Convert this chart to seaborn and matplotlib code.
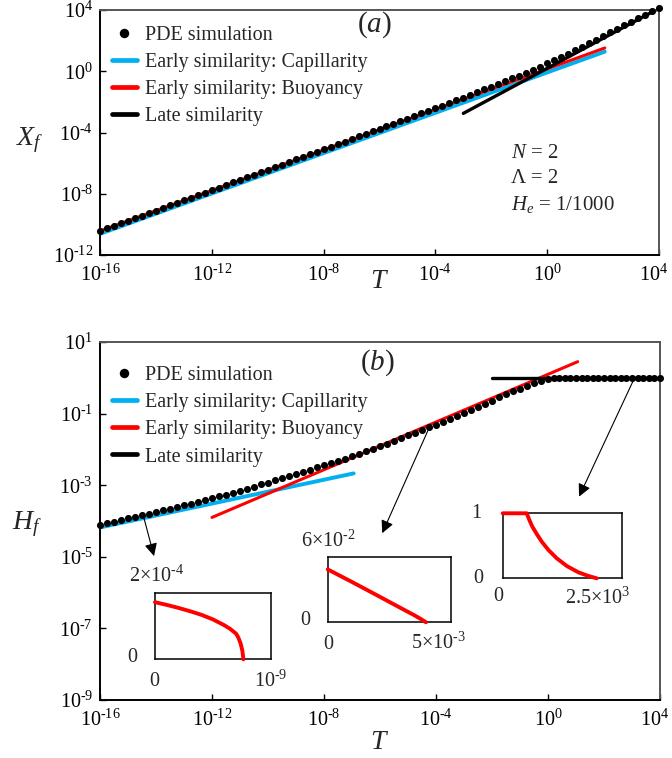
import numpy as np
import matplotlib
matplotlib.use("Agg")
import matplotlib.pyplot as plt
from matplotlib.lines import Line2D
from matplotlib.ticker import FixedLocator, FuncFormatter, NullLocator
from matplotlib.transforms import ScaledTranslation
import seaborn as sns

# ---------------- data (log10 values) ----------------
# (a) front position X_f versus time T
pde_logT_a = np.arange(-16.0, 4.001, 0.25)
pde_logX_a = [
    -10.43, -10.26, -10.10, -9.93, -9.76, -9.60, -9.43, -9.26, -9.10, -8.93,
    -8.76, -8.60, -8.43, -8.26, -8.10, -7.93, -7.76, -7.60, -7.43, -7.26,
    -7.10, -6.93, -6.76, -6.60, -6.43, -6.26, -6.10, -5.93, -5.76, -5.60,
    -5.43, -5.26, -5.10, -4.93, -4.76, -4.60, -4.43, -4.26, -4.10, -3.93,
    -3.76, -3.60, -3.43, -3.26, -3.09, -2.92, -2.75, -2.58, -2.41, -2.24,
    -2.07, -1.89, -1.72, -1.55, -1.37, -1.19, -1.02, -0.83, -0.65, -0.47,
    -0.28, -0.085, 0.11, 0.31, 0.52, 0.72, 0.93, 1.14, 1.37, 1.60,
    1.83, 2.07, 2.31, 2.54, 2.77, 3.00, 3.22, 3.45, 3.68, 3.91,
    4.14,
]
cap_logT_a = [-16.0, 2.06]
cap_logX_a = [-10.62, 1.28]
buo_logT_a = [-16.0, 2.06]
buo_logX_a = [-10.43, 1.52]
late_logT_a = [-3.0, 4.0]
late_logX_a = [-2.75, 4.11]

# (b) front height H_f versus time T
pde_logT_b = np.concatenate([np.arange(-16.0, 0.001, 0.25), np.arange(0.2, 4.001, 0.2)])
pde_logH_b = [
    -4.11, -4.065, -4.02, -3.975, -3.93, -3.885, -3.84, -3.795, -3.75, -3.705,
    -3.66, -3.61, -3.565, -3.515, -3.47, -3.42, -3.37, -3.315, -3.26, -3.205,
    -3.15, -3.095, -3.04, -2.98, -2.925, -2.865, -2.805, -2.745, -2.685, -2.625,
    -2.565, -2.505, -2.445, -2.385, -2.32, -2.26, -2.19, -2.12, -2.05, -1.98,
    -1.91, -1.84, -1.765, -1.69, -1.61, -1.535, -1.46, -1.385, -1.31, -1.23,
    -1.145, -1.06, -0.975, -0.89, -0.805, -0.72, -0.635, -0.55, -0.465, -0.38,
    -0.30, -0.225, -0.155, -0.09, -0.04,
    -0.015, -0.005, 0.0, 0.0, 0.0, 0.0, 0.0, 0.0, 0.0, 0.0,
    0.0, 0.0, 0.0, 0.0, 0.0, 0.0, 0.0, 0.0, 0.0, 0.0,
]
cap_logT_b = [-16.0, -6.94]
cap_logH_b = [-4.18, -2.67]
buo_logT_b = [-12.0, 1.06]
buo_logH_b = [-3.90, 0.45]
late_logT_b = [-2.0, 4.0]
late_logH_b = [0.0, 0.0]

# inset profiles H(X)
in1_x = [0.0, 0.1e-9, 0.2e-9, 0.3e-9, 0.4e-9, 0.5e-9, 0.6e-9, 0.65e-9, 0.7e-9,
         0.72e-9, 0.74e-9, 0.755e-9, 0.764e-9]
in1_y = [1.73e-4, 1.65e-4, 1.56e-4, 1.46e-4, 1.35e-4, 1.21e-4, 1.03e-4, 0.92e-4,
         0.78e-4, 0.66e-4, 0.48e-4, 0.26e-4, 0.0]
in2_x = [0.0, 1.0e-3, 2.0e-3, 3.0e-3, 3.5e-3, 3.8e-3, 3.985e-3]
in2_y = [4.84e-2, 3.67e-2, 2.47e-2, 1.26e-2, 0.66e-2, 0.27e-2, 0.0]
in3_x = [0.0, 505, 560, 622, 715, 820, 960, 1135, 1345, 1590, 1800, 1975]
in3_y = [1.0, 1.0, 0.897, 0.795, 0.682, 0.564, 0.436, 0.308, 0.190, 0.092, 0.036, 0.0]

labels = ["PDE simulation", "Early similarity: Capillarity",
          "Early similarity: Buoyancy", "Late similarity"]
BLUE = "#00B0F0"
RED = "#FF0000"

# ---------------- style ----------------
sns.set_theme(style="ticks")
plt.rcParams.update({
    "font.family": ["Liberation Serif", "DejaVu Serif"],
    "mathtext.fontset": "custom",
    "mathtext.rm": "Liberation Serif",
    "mathtext.it": "Liberation Serif:italic",
    "mathtext.bf": "Liberation Serif:bold",
    "axes.linewidth": 1.3,
})

W, H = 672, 758
fig = plt.figure(figsize=(W / 100, H / 100), dpi=100)


def px_axes(x0, y0, x1, y1):
    return fig.add_axes([x0 / W, 1 - y1 / H, (x1 - x0) / W, (y1 - y0) / H])


ax_a = px_axes(100, 10, 659, 255)
ax_b = px_axes(100, 342, 660, 700)

pow_fmt = FuncFormatter(lambda v, p: r"$10^{\text{%d}}$" % int(round(np.log10(v))))


def style_log(ax, ylim_exp, ytick_exp):
    ax.set_xscale("log")
    ax.set_yscale("log")
    ax.set_xlim(1e-16, 1e4)
    ax.set_ylim(10.0 ** ylim_exp[0], 10.0 ** ylim_exp[1])
    ax.xaxis.set_major_locator(FixedLocator([10.0 ** e for e in range(-16, 5, 4)]))
    ax.yaxis.set_major_locator(FixedLocator([10.0 ** e for e in ytick_exp]))
    ax.xaxis.set_minor_locator(NullLocator())
    ax.yaxis.set_minor_locator(NullLocator())
    ax.xaxis.set_major_formatter(pow_fmt)
    ax.yaxis.set_major_formatter(pow_fmt)
    ax.tick_params(direction="in", length=4, width=1.0, labelsize=14.5,
                   colors="black")
    ax.tick_params(axis="x", pad=7)
    ax.tick_params(axis="y", pad=5)
    for side in ("left", "bottom"):
        ax.spines[side].set_color("black")
        ax.spines[side].set_linewidth(1.4)
    for side in ("top", "right"):
        ax.spines[side].set_color("#555555")
        ax.spines[side].set_linewidth(1.4)
    # keep the last x label inside the figure
    last = ax.xaxis.get_major_ticks()[-1].label1
    last.set_transform(last.get_transform()
                       + ScaledTranslation(-5 / 100, 0, fig.dpi_scale_trans))


def draw_panel(ax, pde_t, pde_v, cap, buo, late):
    for (lt, lv), col, lw in ((cap, BLUE, 2.8), (buo, RED, 2.2), (late, "black", 2.4)):
        sns.lineplot(x=10.0 ** np.asarray(lt), y=10.0 ** np.asarray(lv), ax=ax,
                     color=col, lw=lw, estimator=None, sort=False, legend=False)
    sns.scatterplot(x=10.0 ** np.asarray(pde_t), y=10.0 ** np.asarray(pde_v), ax=ax,
                    color="black", s=26, linewidth=0, legend=False, zorder=5,
                    clip_on=False)


style_log(ax_a, (-12, 4), range(-12, 5, 4))
style_log(ax_b, (-9, 1), range(-9, 2, 2))

draw_panel(ax_a, pde_logT_a, pde_logX_a,
           (cap_logT_a, cap_logX_a), (buo_logT_a, buo_logX_a), (late_logT_a, late_logX_a))
draw_panel(ax_b, pde_logT_b, pde_logH_b,
           (cap_logT_b, cap_logH_b), (buo_logT_b, buo_logH_b), (late_logT_b, late_logH_b))

handles = [
    Line2D([], [], ls="none", marker="o", ms=6.8, color="black", mec="none"),
    Line2D([], [], color=BLUE, lw=3.4),
    Line2D([], [], color=RED, lw=3.4),
    Line2D([], [], color="black", lw=3.4),
]
for ax, y0 in ((ax_a, 0.935), (ax_b, 0.933)):
    ax.legend(handles, labels, loc="upper left", bbox_to_anchor=(0.021, y0),
              frameon=False, fontsize=14.5, handlelength=1.25, handletextpad=0.4,
              labelspacing=0.40, borderaxespad=0, borderpad=0)

# axis labels
ax_a.set_xlabel(r"$T$", fontsize=20, va="center")
ax_a.xaxis.set_label_coords(0.5, -0.11)
ax_a.set_ylabel(r"$X_f$", fontsize=20, rotation=0, va="center", ha="center")
ax_a.yaxis.set_label_coords(-0.125, 0.47)
ax_b.set_xlabel(r"$T$", fontsize=20, va="center")
ax_b.xaxis.set_label_coords(0.5, -0.12)
ax_b.set_ylabel(r"$H_f$", fontsize=20, rotation=0, va="center", ha="center")
ax_b.yaxis.set_label_coords(-0.130, 0.49)

ax_a.text(0.490, 0.939, r"($a$)", transform=ax_a.transAxes, fontsize=21,
          ha="center", va="center")
ax_b.text(0.495, 0.941, r"($b$)", transform=ax_b.transAxes, fontsize=21,
          ha="center", va="center")

for yy, s in ((0.416, r"$N$ = 2"), (0.314, "Λ = 2"), (0.208, r"$H_e$ = 1/1000")):
    ax_a.text(0.735, yy, s, transform=ax_a.transAxes, fontsize=15,
              ha="left", va="center")

# arrows from the curve to the profile insets
arrow_kw = dict(arrowstyle="-|>", color="black", lw=0.8, mutation_scale=19,
                shrinkA=0, shrinkB=0)
for (t0, h0), (t1, h1) in (((-14.45, -3.86), (-14.07, -4.98)),
                           ((-4.23, -1.37), (-5.92, -4.34)),
                           ((3.08, -0.02), (1.11, -3.32))):
    ax_b.annotate("", xy=(10.0 ** t1, 10.0 ** h1), xytext=(10.0 ** t0, 10.0 ** h0),
                  xycoords="data", textcoords="data", arrowprops=arrow_kw, zorder=4)

# insets
insets = [
    dict(box=(155, 593.3, 270.7, 659.3), x=in1_x, y=in1_y, xlim=1e-9, ylim=2e-4,
         texts=[(0.01, 1.26, r"$2{\times}10^{\text{-4}}$"), (-0.20, 0.02, "0"),
                (-0.006, -0.34, "0"), (0.997, -0.33, r"$10^{\text{-9}}$")]),
    dict(box=(327.7, 556.7, 451, 622.3), x=in2_x, y=in2_y, xlim=5e-3, ylim=6e-2,
         texts=[(0.005, 1.24, r"$6{\times}10^{\text{-2}}$"), (-0.184, 0.035, "0"),
                (0.005, -0.346, "0"), (0.90, -0.315, r"$5{\times}10^{\text{-3}}$")]),
    dict(box=(502.7, 513.3, 621.7, 578.3), x=in3_x, y=in3_y, xlim=2.5e3, ylim=1.0,
         texts=[(-0.218, 1.0, "1"), (-0.205, 0.0, "0"),
                (-0.037, -0.283, "0"), (0.80, -0.30, r"$2.5{\times}10^{3}$")]),
]
for spec in insets:
    ins = px_axes(*spec["box"])
    ins.set_xlim(0, spec["xlim"])
    ins.set_ylim(0, spec["ylim"])
    ins.set_xticks([])
    ins.set_yticks([])
    for sp in ins.spines.values():
        sp.set_color("black")
        sp.set_linewidth(1.1)
    sns.lineplot(x=spec["x"], y=spec["y"], ax=ins, color=RED, lw=2.8,
                 estimator=None, sort=False, legend=False, clip_on=False, zorder=5)
    for tx, ty, s in spec["texts"]:
        ins.text(tx, ty, s, transform=ins.transAxes, fontsize=14.5,
                 ha="center", va="center")

fig.savefig("out.png", dpi=100)
